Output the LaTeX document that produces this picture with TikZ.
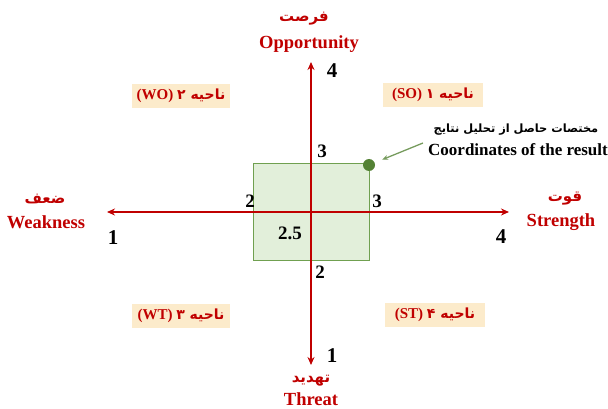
\documentclass[tikz,border=0pt]{standalone}
\usepackage{fontspec}
\setmainfont{Liberation Serif}
\newfontfamily\fa[Script=Arabic]{DejaVu Sans}
\TeXXeTstate=1
\usetikzlibrary{arrows.meta}
\definecolor{axisred}{HTML}{C00000}
\definecolor{boxfill}{HTML}{FCEBCB}
\definecolor{rectfill}{HTML}{E2EFDA}
\definecolor{rectline}{HTML}{70A050}
\definecolor{dotgreen}{HTML}{548235}
\newcommand{\quadfa}{\fa\bfseries\fontsize{14}{14}\selectfont}
\tikzset{
  axis/.style={draw=axisred, line width=2.2pt, {Stealth[length=8pt,width=7pt]}-{Stealth[length=8pt,width=7pt]}},
  redlbl/.style={text=axisred, font=\bfseries\fontsize{18.5}{19}\selectfont, inner sep=0pt},
  falbl/.style={text=axisred, font=\fa\bfseries\fontsize{15}{16}\selectfont, inner sep=0pt},
  num/.style={font=\bfseries\fontsize{21}{21}\selectfont, inner sep=0pt},
  rnum/.style={font=\bfseries\fontsize{19}{19}\selectfont, inner sep=0pt},
  quad/.style={fill=boxfill, text=axisred, font=\bfseries\fontsize{15}{15}\selectfont, minimum height=24pt, inner ysep=0pt, inner xsep=4pt},
}
\begin{document}
\begin{tikzpicture}[x=1pt,y=-1pt]
\useasboundingbox (0,0) rectangle (608,409);
% result rectangle
\node[draw=rectline, fill=rectfill, line width=0.8pt, minimum width=116pt, minimum height=97pt, inner sep=0pt] (rect) at (311,212) {};
% axes
\coordinate (L) at (107,212);
\coordinate (R) at (509,212);
\coordinate (T) at (311,62);
\coordinate (B) at (311,365);
\draw[axis] (L) -- (R);
\draw[axis] (B) -- (T);
% top / bottom / left / right labels
\node[falbl] (fasat) at (304,19) {\beginR فرصت\endR};
\node[redlbl] (opp) at (309,44) {Opportunity};
\node[falbl] (fathr) at (311,381) {\beginR تهدید\endR};
\node[redlbl] (thr) at (311,399) {Threat};
\node[falbl] (fawk) at (45,199) {\beginR ضعف\endR};
\node[redlbl] (wk) at (46,222) {Weakness};
\node[falbl] (fastr) at (565,199) {\beginR قوت\endR};
\node[redlbl] (str) at (561,222) {Strength};
% axis end numbers
\node[num] (n4t) at (332,71) {4};
\node[num] (n1b) at (332,356) {1};
\node[num] (n1l) at (113,238) {1};
\node[num] (n4r) at (501,237) {4};
% rectangle numbers
\node[rnum] (r3t) at (322,151) {3};
\node[rnum] (r2l) at (250,201) {2};
\node[rnum] (r3r) at (377,201) {3};
\node[rnum] (r25) at (290,233) {2.5};
\node[rnum] (r2b) at (320,272) {2};
% quadrant labels
\node[quad, minimum width=98pt] (q2) at (181,96) {(WO) {\quadfa\beginR ناحیه ۲\endR}};
\node[quad, minimum width=100pt] (q1) at (433,95) {(SO) {\quadfa\beginR ناحیه ۱\endR}};
\node[quad, minimum width=98pt] (q3) at (181,316) {(WT) {\quadfa\beginR ناحیه ۳\endR}};
\node[quad, minimum width=100pt] (q4) at (435,315) {(ST) {\quadfa\beginR ناحیه ۴\endR}};
% result point
\node[circle, fill=dotgreen, minimum size=12pt, inner sep=0pt] (dot) at (369,165) {};
\coordinate (ga) at (423,143);
\draw[draw=dotgreen!80, line width=1.3pt, -{Stealth[length=6pt,width=5pt]}, shorten >=8pt] (ga) -- (dot);
\node[font=\fa\bfseries\fontsize{11.4}{12}\selectfont, inner sep=0pt] (resfa) at (516,130) {\beginR مختصات حاصل از تحلیل نتایج\endR};
\node[font=\bfseries\fontsize{17}{17}\selectfont, inner sep=0pt, anchor=west] (resen) at (428,150) {Coordinates of the result};
\end{tikzpicture}
\end{document}
